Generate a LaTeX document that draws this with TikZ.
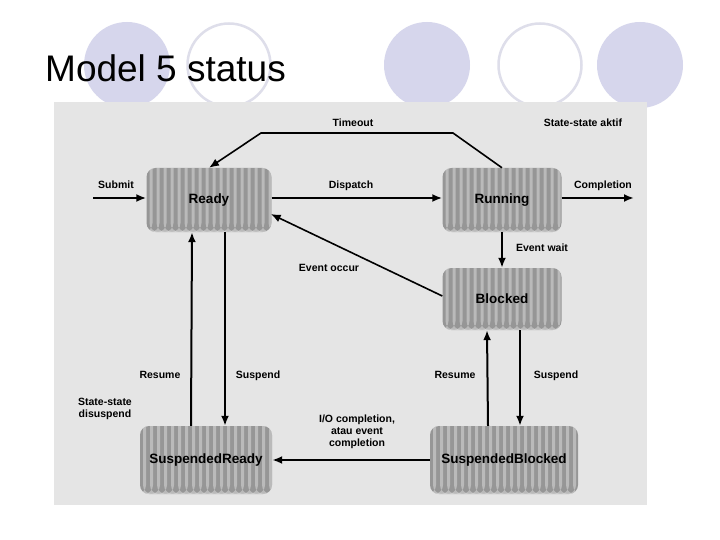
\documentclass[tikz,border=0pt]{standalone}
\usepackage{fontspec}
\setmainfont{Liberation Sans}
\usetikzlibrary{arrows.meta}
\definecolor{lav}{RGB}{214,214,236}
\definecolor{lavline}{RGB}{222,222,234}
\definecolor{scan}{RGB}{229,229,229}
\definecolor{boxgray}{RGB}{150,150,150}
\tikzset{
  statebox/.style={rounded corners=9pt, fill=boxgray, inner sep=0pt,
    font=\bfseries\fontsize{13.5}{15}\selectfont,
    path picture={
      \foreach \i in {0,...,24}
        \fill[white,opacity=0.35] ([xshift=\i*7pt+3pt]path picture bounding box.south west) rectangle ++(3pt,80pt);
    }},
  arr/.style={line width=2pt, -{Latex[length=10pt,width=8pt]}},
  thin arr/.style={line width=1.6pt, -{Latex[length=10pt,width=8pt]}},
  lbl/.style={font=\bfseries\fontsize{10.5}{12}\selectfont, inner sep=0pt, align=center},
  lbl1/.style={lbl, text height=7.6pt, text depth=2.2pt},
}
\begin{document}
\begin{tikzpicture}[x=1pt,y=-1pt]
\useasboundingbox (0,0) rectangle (720,540);
\fill[white] (0,0) rectangle (720,540);
% decorative circles
\fill[lav] (127,65) circle (43pt);
\draw[lavline, line width=2.5pt] (229,65) circle (41.5pt);
\fill[lav] (427,65) circle (43pt);
\draw[lavline, line width=2.5pt] (540,65) circle (41.5pt);
\fill[lav] (640,65) circle (43pt);
% title
\node[anchor=base west, inner sep=0pt, font=\fontsize{37}{40}\selectfont] (title) at (45,82) {Model 5 status};
% scanned panel
\fill[scan] (54,102) rectangle (647,505);
% states
\node[statebox, minimum width=125pt, minimum height=64pt] (ready) at (209,200) {Ready};
\node[statebox, minimum width=119pt, minimum height=64pt] (running) at (502,200) {Running};
\node[statebox, minimum width=119pt, minimum height=62pt] (blocked) at (502,299) {Blocked};
\node[statebox, minimum width=132pt, minimum height=68pt] (sready) at (206,460) {SuspendedReady};
\node[statebox, minimum width=148pt, minimum height=68pt] (sblocked) at (504,460) {SuspendedBlocked};
% coordinates
\coordinate (sub) at (93,198);
\coordinate (comp) at (634,198);
\coordinate (t1) at (453,133);
\coordinate (t2) at (261,133);
% connectors
\draw[arr] (sub) -- (sub -| ready.west);
\draw[arr] ([yshift=2pt]ready.east) -- ([yshift=2pt]running.west);
\draw[arr] ([yshift=2pt]running.east) -- (comp);
\draw[thin arr] (running.north) -- (t1) -- (t2) -- (ready.north);
\draw[arr] (running.south) -- (blocked.north);
\draw[thin arr] ([yshift=3pt]blocked.west) -- ([xshift=-1pt,yshift=-14pt]ready.east);
\draw[arr] ([xshift=-15pt]sready.north) -- ([xshift=-17pt]ready.south);
\draw[arr] ([xshift=16pt]ready.south) -- ([xshift=19pt]sready.north);
\draw[arr] ([xshift=-16pt]sblocked.north) -- ([xshift=-15pt]blocked.south);
\draw[arr] ([xshift=18pt]blocked.south) -- ([xshift=16pt]sblocked.north);
\draw[arr] (sblocked.west) -- (sready.east);
% labels
\node[lbl1] (lsub) at (116,186) {Submit};
\node[lbl1] (ltime) at (353,124) {Timeout};
\node[lbl1] (laktif) at (583,124) {State-state aktif};
\node[lbl1] (ldisp) at (351,186) {Dispatch};
\node[lbl1] (lcomp) at (603,186) {Completion};
\node[lbl1] (lwait) at (542,249) {Event wait};
\node[lbl1] (loccur) at (329,269) {Event occur};
\node[lbl1] (lres1) at (160,376) {Resume};
\node[lbl1] (lsus1) at (258,376) {Suspend};
\node[lbl] (ldis) at (105,409) {State-state\\disuspend};
\node[lbl1] (lres2) at (455,376) {Resume};
\node[lbl1] (lsus2) at (556,376) {Suspend};
\node[lbl] (lio) at (357,432) {I/O completion,\\atau event\\completion};
\end{tikzpicture}
\end{document}
